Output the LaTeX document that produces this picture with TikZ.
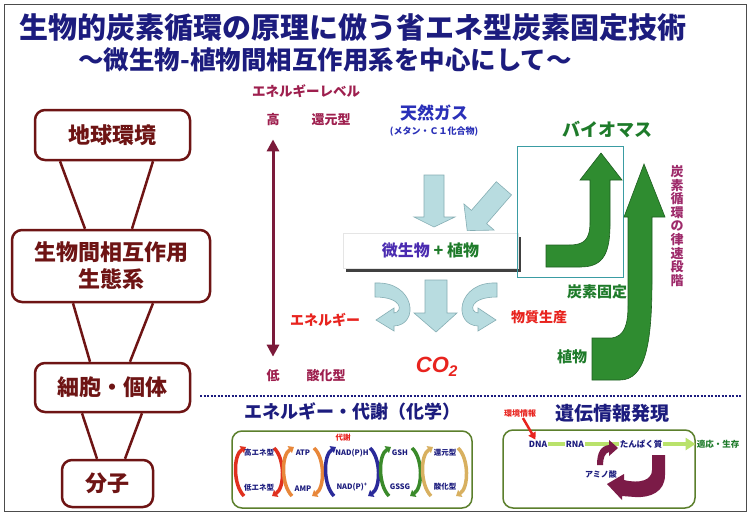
\documentclass[tikz,border=0pt]{standalone}
\usepackage{fontspec}
\setmainfont{Noto Sans CJK JP}
\newfontfamily\latinfont{Liberation Sans}
\usepackage{xcolor}
\usepackage{tikz}
\usetikzlibrary{arrows.meta,positioning,calc,shadows}
\definecolor{titleblue}{HTML}{1C1C7E}
\definecolor{boxred}{HTML}{6E1414}
\definecolor{levelred}{HTML}{9E1F4E}
\definecolor{axisred}{HTML}{7B1A3A}
\definecolor{gasblue}{HTML}{2A30B8}
\definecolor{microbe}{HTML}{4A2BB0}
\definecolor{plantgreen}{HTML}{1E7B2A}
\definecolor{fixgreen}{HTML}{2F8C30}
\definecolor{fixdark}{HTML}{1D5E1F}
\definecolor{ratepurple}{HTML}{9E2A6A}
\definecolor{alertred}{HTML}{E8231E}
\definecolor{paleblue}{HTML}{B8DCE0}
\definecolor{paleedge}{HTML}{86AEB4}
\definecolor{tealline}{HTML}{3A9CA3}
\definecolor{olive}{HTML}{5B7F2C}
\definecolor{barGreen}{HTML}{B9E26B}
\definecolor{jpurple}{HTML}{7B1B47}
\definecolor{cycred}{HTML}{E0301E}
\definecolor{cycorange}{HTML}{E8873A}
\definecolor{cycblue}{HTML}{2A2A9A}
\definecolor{cycgreen}{HTML}{3A8A2A}
\definecolor{cyctan}{HTML}{D8B060}
\newcommand{\jfont}[1]{\fontsize{#1}{#1}\selectfont\bfseries}

\begin{document}
\begin{tikzpicture}[x=1pt, y=-1pt,
    levelbox/.style={rectangle, rounded corners=10pt, draw=boxred, line width=2.5pt, fill=white, text=boxred, font=\fontsize{22}{27}\selectfont\bfseries, align=center, inner sep=0pt},
    link/.style={draw=boxred, line width=2.5pt},
    lbl/.style={inner sep=1pt, font=\jfont{#1}},
    bluearrow/.style={fill=paleblue, draw=paleedge, line width=0.6pt},
    greenarrow/.style={fill=fixgreen, draw=fixdark, line width=0.6pt},
    cycarrow/.style={line width=3.5pt, -{Triangle[width=8pt,length=5pt]}},
    cyclabel/.style={inner sep=0.5pt, text=titleblue, font=\jfont{7.5}},
    genebar/.style={draw=barGreen, line width=4pt},
    greenframe/.style={draw=olive, line width=1.5pt, rounded corners=10pt}
]
    \useasboundingbox[fill=white] (0,0) rectangle (751,524);
    \draw[gray!60!black, line width=1.5pt] (4.5,4.5) rectangle (746.5,511.5);

    % title
    \node[lbl=29, text=titleblue] (title) at (352.5,28) {生物的炭素循環の原理に倣う省エネ型炭素固定技術};
    \node[lbl=25.5, text=titleblue] (subtitle) at (325,60) {〜微生物-植物間相互作用系を中心にして〜};

    % hierarchy
    \node[levelbox, minimum width=155, minimum height=50] (earth) at (112.5,135) {地球環境};
    \node[levelbox, minimum width=198, minimum height=72] (eco) at (111,266) {生物間相互作用\\生態系};
    \node[levelbox, minimum width=155, minimum height=49] (cell) at (112.5,387.5) {細胞・個体};
    \node[levelbox, minimum width=91, minimum height=47] (mol) at (107.5,483.5) {分子};
    \draw[link] ([xshift=-52.5pt]earth.south) -- ([xshift=-26pt]eco.north);
    \draw[link] ([xshift=40.5pt]earth.south) -- ([xshift=21pt]eco.north);
    \draw[link] ([xshift=-38pt]eco.south) -- ([xshift=-22.5pt]cell.north);
    \draw[link] ([xshift=42pt]eco.south) -- ([xshift=17.5pt]cell.north);
    \draw[link] ([xshift=-30.5pt]cell.south) -- ([xshift=-10.5pt]mol.north);
    \draw[link] ([xshift=29.5pt]cell.south) -- ([xshift=17.5pt]mol.north);

    \draw[titleblue, line width=1.2pt, dash pattern=on 2pt off 1.5pt] (200,396) -- (742,396);

    % energy level
    \node[lbl=13.5, text=levelred] (level) at (306,91) {エネルギーレベル};
    \node[lbl=13, text=levelred] (high) at (273,120) {高};
    \node[lbl=13, text=levelred] (reduced) at (331,120) {還元型};
    \node[lbl=13, text=levelred] (low) at (273,376) {低};
    \node[lbl=13, text=levelred] (oxidized) at (326,376) {酸化型};
    \draw[axisred, line width=3pt, {Triangle[width=12pt,length=12pt]}-{Triangle[width=12pt,length=12pt]}, shorten <=12pt, shorten >=12pt] (high) -- (low);

    % gas and cycle
    \node[lbl=17, text=gasblue] (gas) at (434,113) {天然ガス};
    \node[lbl=9, text=gasblue] (gasnote) at (434,132) {(メタン・Ｃ１化合物)};
    \draw[bluearrow] (424,175) -- (444,175) -- (444,217) -- (455,217) -- (434,227) -- (414,217) -- (424,217) -- cycle;
    \draw[bluearrow] (496.3,181.7) -- (471.4,210.4) -- (463.9,203.9) -- (467.2,230.6) -- (494.1,230.1) -- (486.6,223.6) -- (511.5,194.9) -- cycle;
    \node[rectangle, fill=white, draw=black!10, minimum width=175, minimum height=35, inner sep=0pt,
          drop shadow={shadow xshift=3pt, shadow yshift=-4pt, fill=black!75, opacity=1},
          font=\jfont{16}] (partners) at (430.5,250.5) {{\color{microbe}微生物} {\color{plantgreen}+ 植物}};
    \draw[tealline, line width=1pt] (517,146) rectangle (623,277);

    \draw[bluearrow] (425,280) -- (447,280) -- (447,313) -- (457,313) -- (436,332) -- (414,313) -- (425,313) -- cycle;
    \draw[bluearrow] (375,283) .. controls (415,281) and (420,325) .. (394,326) -- (394,331) -- (376,320) -- (394,308) -- (394,313) .. controls (403,312) and (403,297) .. (375,297) -- cycle;
    \draw[bluearrow] (497,283) .. controls (457,281) and (452,325) .. (478,326) -- (478,331) -- (496,320) -- (478,308) -- (478,313) .. controls (469,312) and (469,297) .. (497,297) -- cycle;
    \node[lbl=14, text=alertred] (energy) at (325,320) {エネルギー};
    \node[lbl=14, text=alertred] (production) at (539,317) {物質生産};
    \node[inner sep=1pt, text=alertred, font=\fontsize{22}{22}\latinfont\bfseries\itshape] (co2) at (437,367) {CO\textsubscript{2}};

    % fixation
    \draw[greenarrow] (546,245) -- (569,245) .. controls (584,245) and (590,240) .. (590,222) -- (590,180) -- (580,180) -- (601,153) -- (622,180) -- (610,180) -- (610,225) .. controls (610,258) and (600,267) .. (580,267) -- (546,267) -- cycle;
    \draw[greenarrow] (592,338) -- (612,338) .. controls (624,336) and (628,326) .. (628,305) -- (628,217) -- (624,217) -- (644,164) -- (665,217) -- (652,217) -- (652,280) .. controls (652,345) and (645,380) .. (620,380) -- (592,380) -- cycle;
    \node[lbl=18, text=plantgreen] (biomass) at (607,129) {バイオマス};
    \node[lbl=15, text=plantgreen] (fixation) at (597,292) {炭素固定};
    \node[lbl=15, text=plantgreen] (plant) at (572,357) {植物};
    \node[inner sep=0pt, align=center, text=ratepurple, font=\fontsize{13}{13.6}\selectfont\bfseries] (ratestep) at (677,226) {炭\\素\\循\\環\\の\\律\\速\\段\\階};

    % metabolism
    \node[lbl=18, text=titleblue] (metab) at (352,412) {エネルギー・代謝（化学）};
    \draw[greenframe] (232,431) rectangle (472,508);
    \node[lbl=7.5, text=alertred] (metabnote) at (343,438) {代謝};
    \foreach \l/\r/\c in {236/282/cycred, 284/322/cycorange, 326/378/cycblue, 381/420/cycgreen, 423/466/cyctan} {
        \draw[cycarrow, \c] (\l+8,496) .. controls (\l-3,485) and (\l-3,455) .. (\l+10,447);
        \draw[cycarrow, \c] (\r-8,448) .. controls (\r+3,458) and (\r+3,488) .. (\r-10,496);
    }
    \node[cyclabel] (highE) at (259,453) {高エネ型};
    \node[cyclabel] (lowE) at (259,488) {低エネ型};
    \node[cyclabel] (atp) at (303,453) {ATP};
    \node[cyclabel] (amp) at (303,489) {AMP};
    \node[cyclabel] (nadh) at (352,453) {NAD(P)H};
    \node[cyclabel] (nadp) at (352,487) {NAD(P)\textsuperscript{+}};
    \node[cyclabel] (gsh) at (400,453) {GSH};
    \node[cyclabel] (gssg) at (400,487) {GSSG};
    \node[cyclabel] (redform) at (445,453) {還元型};
    \node[cyclabel] (oxform) at (445,487) {酸化型};

    % gene expression
    \node[lbl=19, text=titleblue] (gene) at (612,413) {遺伝情報発現};
    \draw[greenframe] (503,430) rectangle (695,508);
    \node[lbl=8, text=alertred] (envinfo) at (520,413) {環境情報};
    \node[lbl=8.5, text=titleblue] (dna) at (538,444) {DNA};
    \node[lbl=8.5, text=titleblue] (rna) at (575,444) {RNA};
    \node[lbl=8.5, text=titleblue] (protein) at (641,444) {たんぱく質};
    \node[lbl=8.5, text=plantgreen] (adapt) at (718,444) {適応・生存};
    \node[lbl=8, text=titleblue] (amino) at (601,474) {アミノ酸};
    \draw[genebar] (dna) -- (rna);
    \draw[genebar] (rna) -- (protein);
    \draw[genebar, -{Triangle[width=12pt,length=10pt]}] (protein) -- (adapt);
    \draw[alertred, line width=2.5pt, -{Triangle[width=8pt,length=7pt]}] (envinfo) -- (dna);
    \fill[jpurple] (597,465) .. controls (597,452) and (601,446) .. (609,445) -- (609,440) -- (618,448) -- (609,456) -- (609,452) .. controls (605,453) and (603,458) .. (603,465) -- cycle;
    \fill[jpurple] (652,455) -- (665,455) -- (665,475) .. controls (665,492) and (650,498) .. (635,497) -- (622,496) -- (622,500) -- (607,484) -- (624,474) -- (624,480) .. controls (640,484) and (652,480) .. (652,470) -- cycle;
\end{tikzpicture}
\end{document}
